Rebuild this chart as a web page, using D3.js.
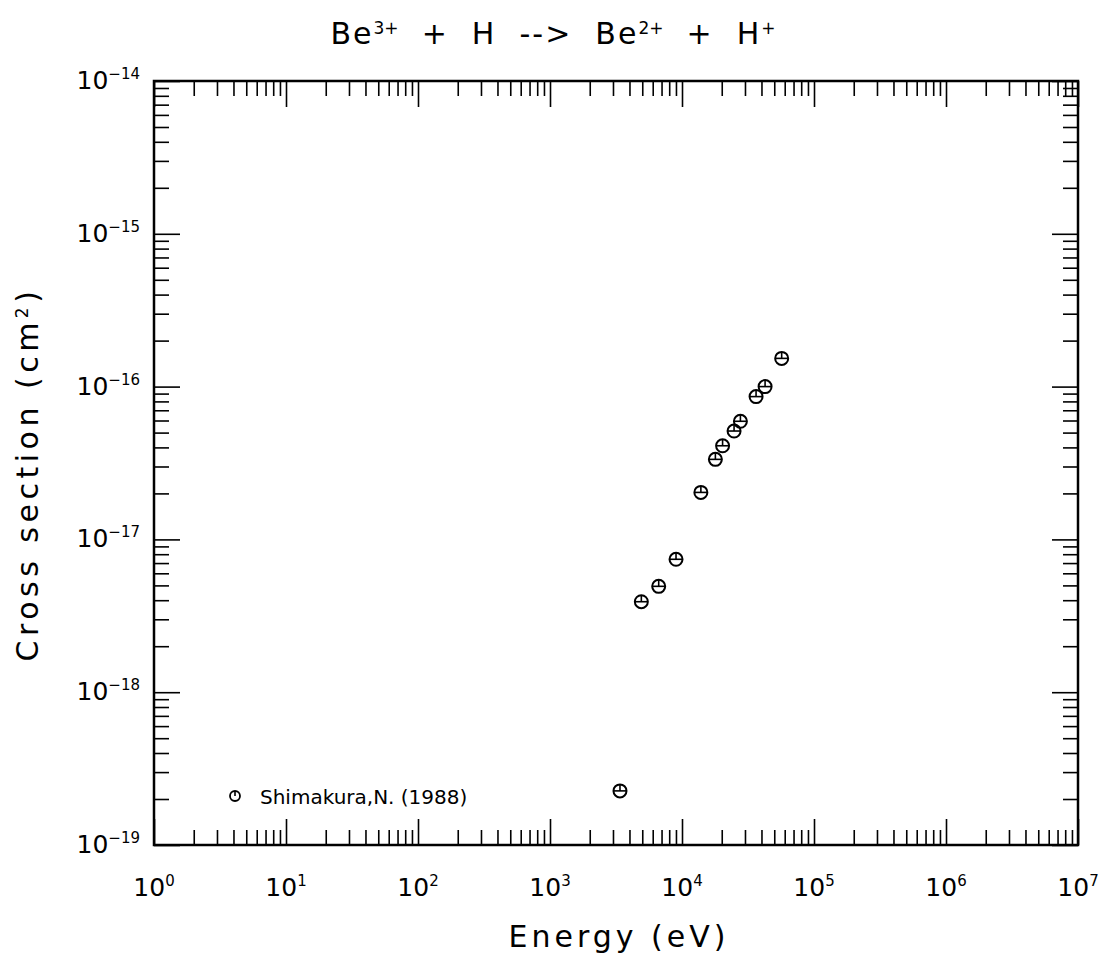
<!DOCTYPE html>
<html>
<head>
<meta charset="utf-8">
<script src="https://cdn.jsdelivr.net/npm/d3@7"></script>
<style>
  body { margin: 0; background: #fff; }
  text { font-family: "DejaVu Sans", sans-serif; fill: #000; }
</style>
</head>
<body>
<div id="chart"></div>
<script>
// data (Shimakura, 1988)
var energy = [3390, 4920, 6660, 9010, 13900, 17900, 20300, 24800, 27700, 36400, 42600, 56900];
var crossSection = [2.26e-19, 3.91e-18, 4.93e-18, 7.41e-18, 2.03e-17, 3.34e-17, 4.1e-17, 5.12e-17, 5.93e-17, 8.6e-17, 1.0e-16, 1.53e-16];
var xDecades = [0, 1, 2, 3, 4, 5, 6, 7];
var yDecades = [-19, -18, -17, -16, -15, -14];
var minorSteps = [2, 3, 4, 5, 6, 7, 8, 9];

// set the dimensions and margins of the graph
var margin = {top: 81, right: 32, bottom: 128, left: 154},
    width = 1110 - margin.left - margin.right,
    height = 973 - margin.top - margin.bottom;

var svg = d3.select("#chart")
  .append("svg")
    .attr("width", 1110)
    .attr("height", 973);

var g = svg.append("g")
    .attr("transform", "translate(" + margin.left + "," + margin.top + ")");

var x = d3.scaleLog()
  .domain([1, 1e7])
  .range([0, width]);

var y = d3.scaleLog()
  .domain([1e-19, 1e-14])
  .range([height, 0]);

// tick values
var xMajor = xDecades.map(function (d) { return Math.pow(10, d); });
var yMajor = yDecades.map(function (d) { return Math.pow(10, d); });
var xMinor = [], yMinor = [];
xDecades.slice(0, -1).forEach(function (d) {
  minorSteps.forEach(function (m) { xMinor.push(m * Math.pow(10, d)); });
});
yDecades.slice(0, -1).forEach(function (d) {
  minorSteps.forEach(function (m) { yMinor.push(m * Math.pow(10, d)); });
});

var minorLen = 15, majorLen = 26;

function tickAxis(axis, values, len, tr) {
  var a = g.append("g")
    .attr("transform", tr)
    .call(axis.tickValues(values).tickSize(-len).tickFormat("").tickSizeOuter(0));
  a.select(".domain").remove();
  a.selectAll("line").attr("stroke", "#000").attr("stroke-width", 1.6);
}

// bottom / top
tickAxis(d3.axisBottom(x), xMinor, minorLen, "translate(0," + height + ")");
tickAxis(d3.axisBottom(x), xMajor, majorLen, "translate(0," + height + ")");
tickAxis(d3.axisTop(x), xMinor, minorLen, "translate(0,0)");
tickAxis(d3.axisTop(x), xMajor, majorLen, "translate(0,0)");
// left / right
tickAxis(d3.axisLeft(y), yMinor, minorLen, "translate(0,0)");
tickAxis(d3.axisLeft(y), yMajor, majorLen, "translate(0,0)");
tickAxis(d3.axisRight(y), yMinor, minorLen, "translate(" + width + ",0)");
tickAxis(d3.axisRight(y), yMajor, majorLen, "translate(" + width + ",0)");

// frame
g.append("rect")
  .attr("width", width)
  .attr("height", height)
  .attr("fill", "none")
  .attr("stroke", "#000")
  .attr("stroke-width", 2.5);

// x tick labels
xDecades.forEach(function (d) {
  var t = g.append("text")
    .attr("x", x(Math.pow(10, d)))
    .attr("y", height + 51)
    .attr("text-anchor", "middle")
    .style("font-size", "25px");
  t.append("tspan").text("10");
  t.append("tspan").attr("dy", -10).style("font-size", "15px").text(d);
});

// y tick labels
yDecades.forEach(function (d) {
  var t = g.append("text")
    .attr("x", -14)
    .attr("y", y(Math.pow(10, d)) + 8)
    .attr("text-anchor", "end")
    .style("font-size", "25px");
  t.append("tspan").text("10");
  t.append("tspan").attr("dy", -10).style("font-size", "15px").text("\u2212" + Math.abs(d));
});

// data markers: circle with a horizontal bar and a half vertical tick
var pts = g.append("g")
  .selectAll("g")
  .data(energy)
  .enter()
  .append("g")
    .attr("transform", function (d, i) { return "translate(" + x(d) + "," + y(crossSection[i]) + ")"; });
pts.append("circle").attr("r", 6.5).attr("fill", "none").attr("stroke", "#000").attr("stroke-width", 2);
pts.append("line").attr("x1", -6.5).attr("x2", 6.5).attr("stroke", "#000").attr("stroke-width", 1.6);
pts.append("line").attr("y1", -6.5).attr("y2", 0).attr("stroke", "#000").attr("stroke-width", 1.6);

// legend
var leg = g.append("g").attr("transform", "translate(" + (235 - margin.left) + "," + (796 - margin.top) + ")");
leg.append("circle").attr("r", 5).attr("fill", "none").attr("stroke", "#000").attr("stroke-width", 1.8);
leg.append("line").attr("y1", -5).attr("y2", 0).attr("stroke", "#000").attr("stroke-width", 1.6);
leg.append("text")
  .attr("x", 25)
  .attr("y", 8)
  .style("font-size", "20px")
  .text("Shimakura,N. (1988)");

// title
var title = svg.append("text")
  .attr("x", 553)
  .attr("y", 44)
  .attr("text-anchor", "middle")
  .style("font-size", "30px")
  .style("letter-spacing", "2px")
  .style("white-space", "pre");
[["Be", ""], ["3+", "sup"], ["  +  H  -->  Be", ""], ["2+", "sup"], ["  +  H", ""], ["+", "sup"]].forEach(function (p) {
  var s = title.append("tspan").text(p[0]);
  if (p[1] === "sup") {
    s.attr("baseline-shift", "super").style("font-size", "17px").style("letter-spacing", "0px");
  }
});

// axis titles
svg.append("text")
  .attr("x", 619)
  .attr("y", 947)
  .attr("text-anchor", "middle")
  .style("font-size", "30px")
  .style("letter-spacing", "4px")
  .text("Energy (eV)");

var yl = svg.append("text")
  .attr("transform", "translate(38,474) rotate(-90)")
  .attr("text-anchor", "middle")
  .style("font-size", "30px")
  .style("letter-spacing", "4.5px");
yl.append("tspan").text("Cross section (cm");
yl.append("tspan").attr("baseline-shift", "super").style("font-size", "17px").text("2");
yl.append("tspan").text(")");
</script>
</body>
</html>
